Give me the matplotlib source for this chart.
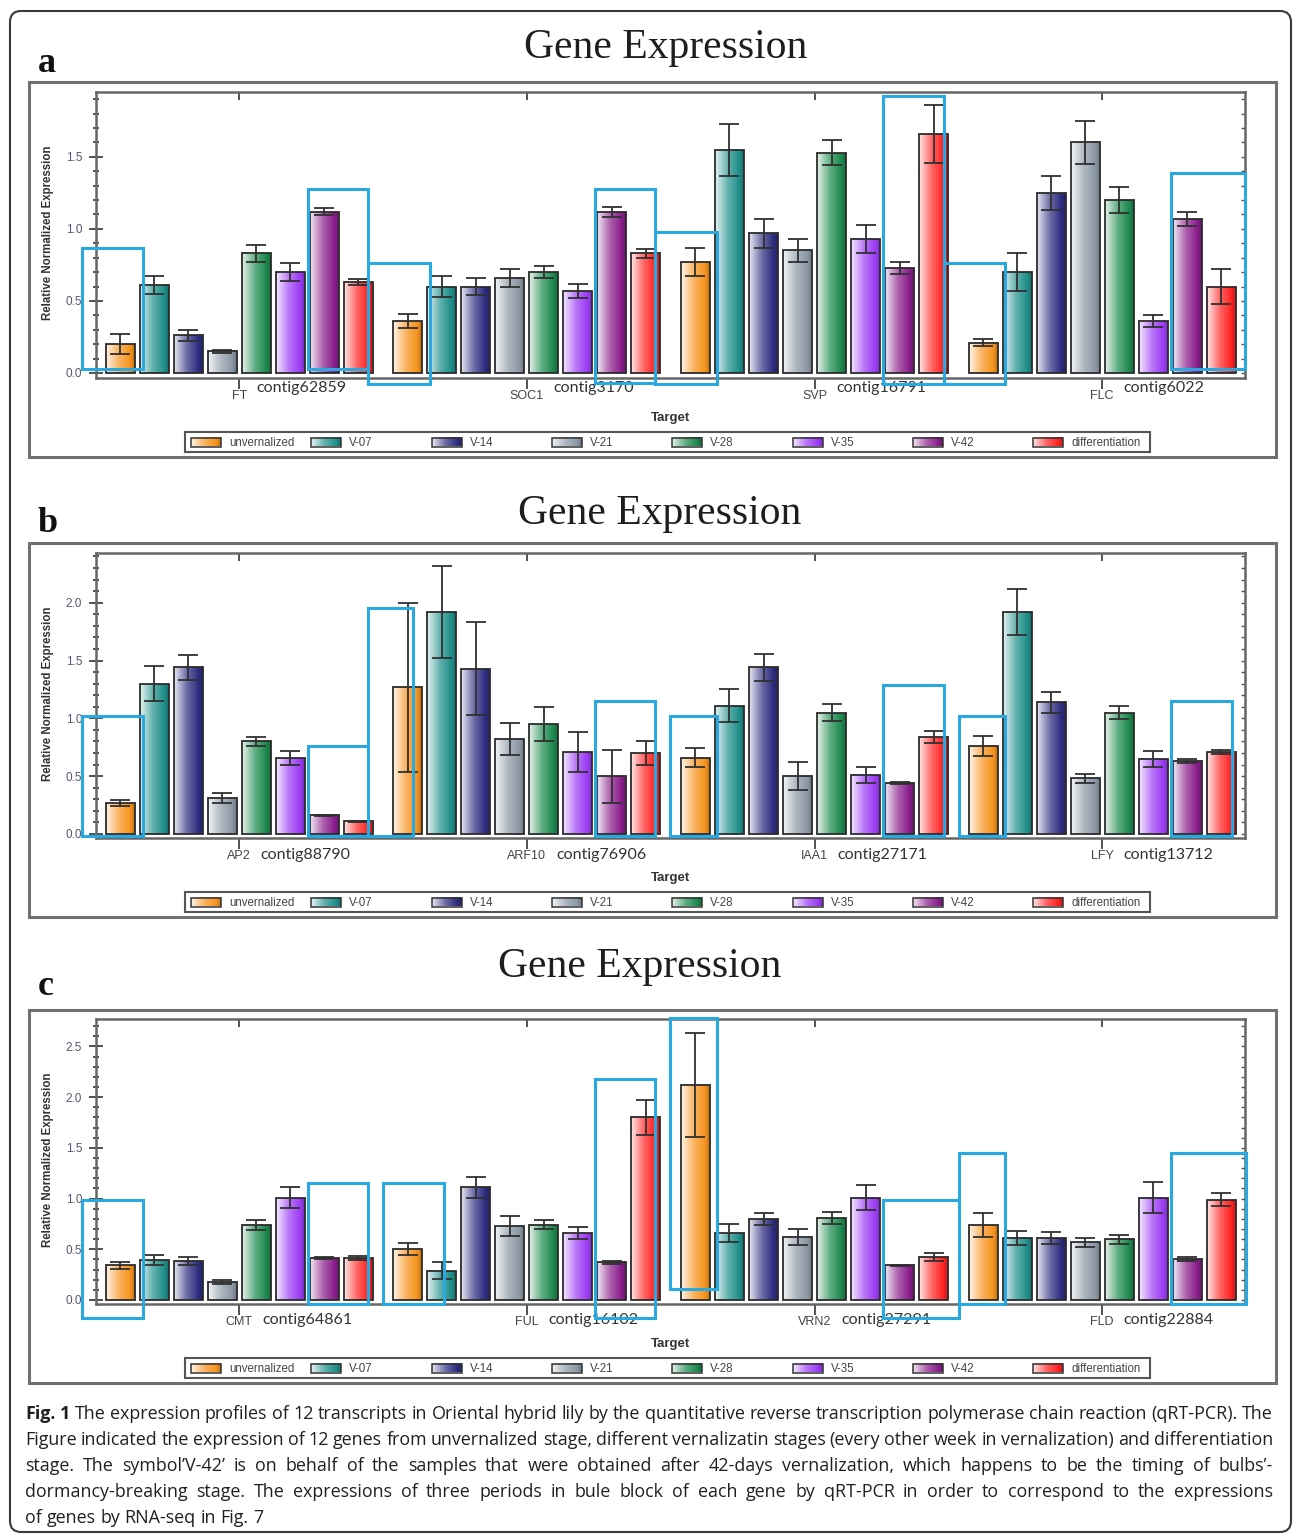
import numpy as np
import matplotlib
matplotlib.use('Agg')
import matplotlib.pyplot as plt
from matplotlib.colors import LinearSegmentedColormap, to_rgb
from matplotlib.patches import Rectangle, FancyBboxPatch
from matplotlib.ticker import MultipleLocator

plt.rcParams['font.family'] = ['Liberation Sans', 'DejaVu Sans']

# ---------------- data ----------------
series = ['unvernalized', 'V-07', 'V-14', 'V-21', 'V-28', 'V-35', 'V-42', 'differentiation']
series_colors = ['#F7931E', '#1F8F8A', '#2D2C80', '#8C98A6', '#1C8A4E', '#9B3CF5', '#8A1E8C', '#FF2222']

a_genes = ['FT', 'SOC1', 'SVP', 'FLC']
a_contigs = ['contig62859', 'contig3170', 'contig16791', 'contig6022']
a_values = [
    [0.20, 0.61, 0.26, 0.15, 0.83, 0.70, 1.12, 0.63],
    [0.36, 0.60, 0.60, 0.66, 0.70, 0.57, 1.12, 0.83],
    [0.77, 1.55, 0.97, 0.85, 1.53, 0.93, 0.73, 1.66],
    [0.21, 0.70, 1.25, 1.60, 1.20, 0.36, 1.07, 0.60],
]
a_errors = [
    [0.07, 0.065, 0.04, 0.01, 0.06, 0.06, 0.025, 0.02],
    [0.05, 0.07, 0.06, 0.06, 0.04, 0.05, 0.035, 0.03],
    [0.10, 0.18, 0.10, 0.08, 0.09, 0.10, 0.04, 0.20],
    [0.025, 0.13, 0.12, 0.15, 0.09, 0.04, 0.05, 0.12],
]
# blue blocks: (gene index, left slot, right slot, bottom value, top value)
a_blocks = [(0, -1.12, 0.68, 0.03, 0.87), (0, 5.53, 7.29, 0.03, 1.28),
            (1, -1.17, 0.66, -0.08, 0.76), (1, 5.51, 7.27, -0.07, 1.28),
            (2, -1.19, 0.64, -0.08, 0.98), (2, 5.52, 7.31, -0.08, 1.92),
            (3, -1.15, 0.64, -0.08, 0.76), (3, 5.53, 7.70, 0.03, 1.39)]

b_genes = ['AP2', 'ARF10', 'IAA1', 'LFY']
b_contigs = ['contig88790', 'contig76906', 'contig27171', 'contig13712']
b_values = [
    [0.27, 1.30, 1.44, 0.31, 0.80, 0.66, 0.16, 0.11],
    [1.27, 1.92, 1.43, 0.82, 0.95, 0.71, 0.50, 0.70],
    [0.66, 1.11, 1.44, 0.50, 1.05, 0.51, 0.44, 0.84],
    [0.76, 1.92, 1.14, 0.48, 1.05, 0.65, 0.63, 0.71],
]
b_errors = [
    [0.025, 0.15, 0.11, 0.04, 0.035, 0.06, 0.005, 0.005],
    [0.73, 0.40, 0.40, 0.14, 0.15, 0.17, 0.23, 0.10],
    [0.08, 0.14, 0.12, 0.12, 0.07, 0.07, 0.01, 0.05],
    [0.09, 0.20, 0.09, 0.04, 0.06, 0.07, 0.02, 0.02],
]
b_blocks = [(0, -1.12, 0.68, -0.02, 1.02), (0, 5.53, 7.29, -0.02, 0.76),
            (1, -1.17, 0.15, -0.02, 1.95), (1, 5.51, 7.27, -0.02, 1.15),
            (2, -0.75, 0.64, -0.02, 1.02), (2, 5.52, 7.31, -0.02, 1.29),
            (3, -0.71, 0.64, -0.02, 1.02), (3, 5.53, 7.33, -0.02, 1.15)]

c_genes = ['CMT', 'FUL', 'VRN2', 'FLD']
c_contigs = ['contig64861', 'contig16102', 'contig27291', 'contig22884']
c_values = [
    [0.34, 0.39, 0.38, 0.18, 0.74, 1.01, 0.41, 0.41],
    [0.50, 0.29, 1.11, 0.73, 0.74, 0.66, 0.37, 1.80],
    [2.12, 0.66, 0.80, 0.62, 0.81, 1.01, 0.34, 0.42],
    [0.74, 0.61, 0.61, 0.57, 0.60, 1.01, 0.40, 0.99],
]
c_errors = [
    [0.03, 0.05, 0.04, 0.02, 0.05, 0.10, 0.01, 0.02],
    [0.06, 0.08, 0.10, 0.10, 0.045, 0.06, 0.015, 0.17],
    [0.51, 0.09, 0.06, 0.08, 0.06, 0.12, 0.005, 0.04],
    [0.12, 0.07, 0.06, 0.045, 0.045, 0.15, 0.02, 0.06],
]
c_blocks = [(0, -1.12, 0.68, -0.18, 0.99), (0, 5.53, 7.29, -0.04, 1.15),
            (1, -0.73, 1.07, -0.04, 1.15), (1, 5.51, 7.27, -0.18, 2.18),
            (2, -0.75, 0.64, 0.11, 2.78), (2, 5.52, 7.75, -0.18, 0.99),
            (3, -0.71, 0.64, -0.04, 1.45), (3, 5.53, 7.72, -0.04, 1.45)]

caption_lines = [
    "Fig. 1 The expression profiles of 12 transcripts in Oriental hybrid lily by the quantitative reverse transcription polymerase chain reaction (qRT-PCR). The",
    "Figure indicated the expression of 12 genes from unvernalized stage, different vernalizatin stages (every other week in vernalization) and differentiation",
    "stage. The symbol\u2019V-42\u2019 is on behalf of the samples that were obtained after 42-days vernalization, which happens to be the timing of bulbs\u2019-",
    "dormancy-breaking stage. The expressions of three periods in bule block of each gene by qRT-PCR in order to correspond to the expressions",
    "of genes by RNA-seq in Fig. 7",
]

# ---------------- layout ----------------
W, H = 1295, 1535
fig = plt.figure(figsize=(W / 100, H / 100), dpi=100)
bg = fig.add_axes([0, 0, 1, 1])
bg.set_xlim(0, W)
bg.set_ylim(H, 0)
bg.axis('off')

GS = 8.46   # slot spacing between gene groups
BW = 0.85   # bar width in slots
XL = (-0.71, 3 * GS + 7.70)


def grad_cmap(c):
    rgb = np.array(to_rgb(c))
    return LinearSegmentedColormap.from_list(
        'g', [(0, rgb + (1 - rgb) * 0.88), (0.45, rgb + (1 - rgb) * 0.3),
              (0.85, rgb), (1, rgb * 0.78)])


cmaps = [grad_cmap(c) for c in series_colors]
gradient = np.linspace(0, 1, 64)[None, :]


def px_axes(x0, y0, x1, y1):
    return fig.add_axes([x0 / W, 1 - y1 / H, (x1 - x0) / W, (y1 - y0) / H])


panels = [
    dict(letter='a', genes=a_genes, contigs=a_contigs, values=a_values, errors=a_errors,
         blocks=a_blocks, rect=(96, 92, 1245, 378), ylim=(-0.035, 1.95), ymax_tick=1.5,
         title_x=666, title_y=58, letter_y=72, box=(29, 82, 1276, 457), contig_dy=8),
    dict(letter='b', genes=b_genes, contigs=b_contigs, values=b_values, errors=b_errors,
         blocks=b_blocks, rect=(96, 553, 1245, 838), ylim=(-0.035, 2.43), ymax_tick=2.0,
         title_x=660, title_y=524, letter_y=532, box=(29, 543, 1276, 917), contig_dy=1),
    dict(letter='c', genes=c_genes, contigs=c_contigs, values=c_values, errors=c_errors,
         blocks=c_blocks, rect=(96, 1019, 1245, 1304), ylim=(-0.04, 2.77), ymax_tick=2.5,
         title_x=640, title_y=977, letter_y=995, box=(29, 1010, 1276, 1383), contig_dy=2),
]

# outer rounded frame
bg.add_patch(FancyBboxPatch((10, 11), 1281, 1521, boxstyle='round,pad=0,rounding_size=11',
                            fill=False, ec='#3a3a3a', lw=1.5))

for P in panels:
    x0, y0, x1, y1 = P['rect']
    bx0, by0, bx1, by1 = P['box']
    bg.add_patch(Rectangle((bx0, by0), bx1 - bx0, by1 - by0, fill=False, ec='#707070', lw=2.2))
    bg.text(P['title_x'], P['title_y'], 'Gene Expression', family='Liberation Serif',
            fontsize=30, ha='center', va='baseline', color='#1e1e1e')
    bg.text(38, P['letter_y'], P['letter'], family='Liberation Serif', fontweight='bold',
            fontsize=26, ha='left', va='baseline', color='#111')
    bg.text(48, (y0 + y1) / 2 - 2, 'Relative Normalized Expression', rotation=90,
            fontsize=8.3, fontweight='bold', ha='center', va='center', color='#333')
    bg.text((x0 + x1) / 2, y1 + 40, 'Target', fontsize=9.5, fontweight='bold',
            ha='center', va='center', color='#333')

    # legend
    ly = y1 + 54
    bg.add_patch(Rectangle((185, ly), 965, 20, fill=False, ec='#555', lw=1.5))
    for i, name in enumerate(series):
        sx = 191 + 120.3 * i
        bg.imshow(gradient, cmap=cmaps[i], extent=[sx, sx + 30, ly + 14.5, ly + 5.5],
                  aspect='auto', interpolation='bilinear', zorder=2)
        bg.add_patch(Rectangle((sx, ly + 5.5), 30, 9, fill=False, ec='#333', lw=1.1, zorder=3))
        bg.text(sx + 38, ly + 10.5, name, fontsize=8.3, color='#444', ha='left', va='center')

    # data axes
    ax = px_axes(x0, y0, x1, y1)
    ax.set_facecolor('none')
    vals = np.array(P['values'])
    errs = np.array(P['errors'])
    ng = len(P['genes'])
    for i in range(len(series)):
        xs = np.arange(ng) * GS + i
        bars = ax.bar(xs, vals[:, i], width=BW, facecolor='none', edgecolor='#2b2b2b',
                      lw=1.3, zorder=3)
        for p in bars:
            bx = p.get_x()
            bw = p.get_width()
            bh = p.get_height()
            im = ax.imshow(gradient, cmap=cmaps[i], extent=[bx, bx + bw, 0, bh],
                           aspect='auto', interpolation='bilinear', zorder=2)
            im.set_clip_path(p)
        ax.errorbar(xs, vals[:, i], yerr=errs[:, i], fmt='none', ecolor='#303030',
                    elinewidth=1.3, capsize=7, capthick=1.3, zorder=4)

    for g, bl, br, bb, bt in P['blocks']:
        ax.add_patch(Rectangle((g * GS + bl, bb), br - bl, bt - bb, fill=False,
                               ec='#2AA9E0', lw=2.2, clip_on=False, zorder=6))

    ax.set_xlim(*XL)
    ax.set_ylim(*P['ylim'])
    centers = np.arange(ng) * GS + 3.5
    ax.set_xticks(centers)
    ax.set_xticklabels([])
    ax.tick_params(axis='x', direction='out', length=8, width=1.3, color='#444')
    yt = np.arange(0, P['ymax_tick'] + 0.01, 0.5)
    ax.set_yticks(yt)
    ax.set_yticklabels([f'{v:.1f}' for v in yt])
    ax.yaxis.set_minor_locator(MultipleLocator(0.1))
    ax.tick_params(axis='y', which='major', direction='inout', length=10, width=1.2,
                   color='#333', pad=5, labelsize=8.5, labelcolor='#5a5472')
    ax.tick_params(axis='y', which='minor', direction='inout', length=4, width=1.2, color='#333')
    for s in ax.spines.values():
        s.set_color('#666')
        s.set_linewidth(1.8)

    sec = ax.secondary_xaxis('top')
    sec.set_xticks(centers)
    sec.set_xticklabels([])
    sec.tick_params(direction='in', length=6, width=1.3, color='#444')
    sec.spines['top'].set_visible(False)
    secy = ax.secondary_yaxis('right')
    secy.set_yticks(yt)
    secy.set_yticklabels([])
    secy.yaxis.set_minor_locator(MultipleLocator(0.1))
    secy.tick_params(which='both', direction='in', length=3, width=1.0, color='#555')
    secy.spines['right'].set_visible(False)

    for c, gname, contig in zip(centers, P['genes'], P['contigs']):
        t = ax.annotate(gname, xy=(c, 0), xycoords=('data', 'axes fraction'),
                        xytext=(0, -18 * 0.72), textcoords='offset points', ha='center',
                        va='center', fontsize=9, color='#444', annotation_clip=False)
        ax.annotate(contig, xy=(1, 0.5), xycoords=t, xytext=(7, P['contig_dy'] * 0.72),
                    textcoords='offset points', ha='left', va='center', fontsize=11.5,
                    family='Lato', color='#333', annotation_clip=False)

# ---------------- caption (justified) ----------------
renderer = fig.canvas.get_renderer()
CAP_FONT = 'Open Sans'
LEFT, RIGHT = 25, 1273


def text_width(s, size, weight='normal'):
    t = bg.text(0, 0, s, fontsize=size, family=CAP_FONT, fontweight=weight)
    w = t.get_window_extent(renderer).width
    t.remove()
    return w


ref = 12.0
w0 = text_width(caption_lines[0], ref)
cap_size = ref * (RIGHT - LEFT) / w0 * 0.995
space_w = text_width('a a', cap_size) - text_width('aa', cap_size)

for k, line in enumerate(caption_lines):
    yb = 1419 + 26 * k
    words = line.split(' ')
    weights = ['normal'] * len(words)
    if k == 0:
        weights[0] = 'bold'
        weights[1] = 'bold'
    arts = []
    widths = []
    for wd, wt in zip(words, weights):
        t = bg.text(0, yb, wd, fontsize=cap_size, family=CAP_FONT, fontweight=wt,
                    ha='left', va='baseline', color='#231f20')
        arts.append(t)
        widths.append(t.get_window_extent(renderer).width)
    if k < len(caption_lines) - 1 and len(words) > 1:
        gap = max((RIGHT - LEFT - sum(widths)) / (len(words) - 1), 0.6 * space_w)
    else:
        gap = space_w
    x = LEFT
    for t, w in zip(arts, widths):
        t.set_x(x)
        x += w + gap

fig.savefig('out.png', dpi=100)
